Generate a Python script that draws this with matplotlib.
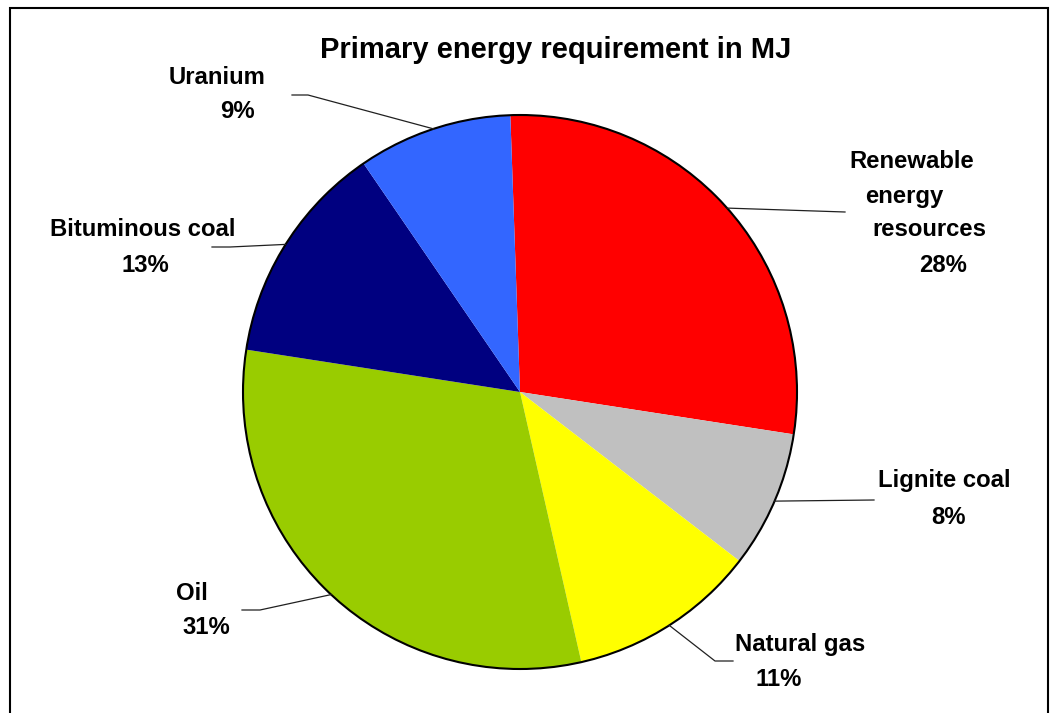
import numpy as np
import matplotlib
matplotlib.use("Agg")
import matplotlib.pyplot as plt
from matplotlib.patches import Rectangle, Circle

# ---- data ----
categories = ["Renewable energy resources", "Lignite coal", "Natural gas", "Oil",
              "Bituminous coal", "Uranium"]
shares = [28, 8, 11, 31, 13, 9]
colors = ["#FF0000", "#C0C0C0", "#FFFF00", "#99CC00", "#000080", "#3366FF"]
label_lines = [["Renewable", "energy", "resources"], ["Lignite coal"], ["Natural gas"],
               ["Oil"], ["Bituminous coal"], ["Uranium"]]
title = "Primary energy requirement in MJ"

W, H = 1051, 713
fig = plt.figure(figsize=(W / 100, H / 100), dpi=100)
ax = fig.add_axes([0, 0, 1, 1])

def Y(py):
    return H - py

cx, cy, R = 520, Y(392), 277
start = 92
wedges, _ = ax.pie(shares, colors=colors, startangle=start, counterclock=False,
                   center=(cx, cy), radius=R, frame=True,
                   wedgeprops=dict(linewidth=0, edgecolor="none"))
ax.add_patch(Circle((cx, cy), R, fill=False, edgecolor="black", linewidth=1.5, zorder=5))
ax.set_xlim(0, W)
ax.set_ylim(0, H)
ax.set_aspect("equal")
ax.axis("off")

# frame
ax.add_patch(Rectangle((10, Y(730)), 1038, 730 - 8, fill=False, edgecolor="black",
                       linewidth=1.5, clip_on=False))

font = "Liberation Sans"
fs_lab = 17.2
fs_title = 21.0
ax.text(556, Y(50), title, ha="center", va="center", fontsize=fs_title,
        fontweight="bold", family=font)

# leader lines (pixel layout: elbow points, ends)
elbows = [None, None, (715, 661), (260, 610), (230, 247), (308, 95)]
ends = [(845, 212), (874, 500), (733, 661), (242, 610), (212, 247), (292, 95)]
cum = 0
for i, s in enumerate(shares):
    mid = start - (cum + s / 2) / 100 * 360
    cum += s
    px = cx + R * np.cos(np.radians(mid))
    py = cy + R * np.sin(np.radians(mid))
    xs, ys = [px], [py]
    if elbows[i] is not None:
        xs.append(elbows[i][0]); ys.append(Y(elbows[i][1]))
    xs.append(ends[i][0]); ys.append(Y(ends[i][1]))
    ax.plot(xs, ys, color="#202020", linewidth=0.9, zorder=6)

# label texts (pixel centers per line)
label_pos = [[(912, 162), (904, 196), (929, 230)], [(944, 481)], [(800, 644)],
             [(192, 593)], [(143, 229)], [(217, 77)]]
pct_pos = [(943, 266), (948, 518), (779, 679), (206, 628), (145, 266), (237, 112)]
for lines, poss, s, pp in zip(label_lines, label_pos, shares, pct_pos):
    for t, (x, y) in zip(lines, poss):
        ax.text(x, Y(y), t, ha="center", va="center", fontsize=fs_lab,
                fontweight="bold", family=font)
    ax.text(pp[0], Y(pp[1]), f"{s}%", ha="center", va="center", fontsize=fs_lab,
            fontweight="bold", family=font)

fig.savefig("out.png", dpi=100, facecolor="white")
